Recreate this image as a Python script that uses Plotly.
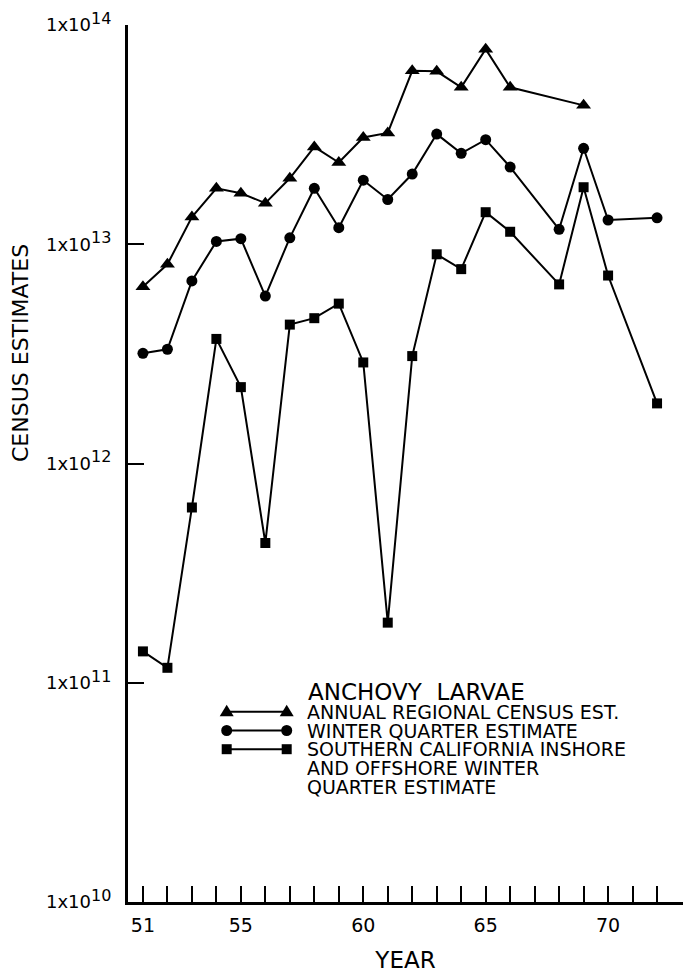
import plotly.graph_objects as go

# ---------------- data ----------------
years_annual = [51, 52, 53, 54, 55, 56, 57, 58, 59, 60, 61, 62, 63, 64, 65, 66, 69]
annual_census = [6.4e12, 8.1e12, 1.33e13, 1.80e13, 1.71e13, 1.54e13, 2.0e13, 2.78e13,
                 2.36e13, 3.07e13, 3.22e13, 6.18e13, 6.15e13, 5.2e13, 7.76e13, 5.2e13, 4.3e13]

years_winter = [51, 52, 53, 54, 55, 56, 57, 58, 59, 60, 61, 62, 63, 64, 65, 66, 68, 69, 70, 72]
winter_quarter = [3.18e12, 3.32e12, 6.8e12, 1.03e13, 1.06e13, 5.8e12, 1.07e13, 1.80e13,
                  1.19e13, 1.96e13, 1.60e13, 2.09e13, 3.18e13, 2.6e13, 3.0e13, 2.25e13,
                  1.17e13, 2.74e13, 1.29e13, 1.32e13]

years_socal = [51, 52, 53, 54, 55, 56, 57, 58, 59, 60, 61, 62, 63, 64, 65, 66, 68, 69, 70, 72]
socal_winter = [1.39e11, 1.17e11, 6.3e11, 3.7e12, 2.23e12, 4.34e11, 4.3e12, 4.6e12,
                5.36e12, 2.89e12, 1.88e11, 3.09e12, 9.0e12, 7.7e12, 1.40e13, 1.14e13,
                6.56e12, 1.82e13, 7.2e12, 1.88e12]

x_tick_years = list(range(51, 73))
x_label_years = [51, 55, 60, 65, 70]
y_tick_vals = [1e10, 1e11, 1e12, 1e13, 1e14]
y_tick_exponents = ["10", "11", "12", "13", "14"]

legend_title = "ANCHOVY  LARVAE"
legend_lines = ["ANNUAL REGIONAL CENSUS EST.", "WINTER QUARTER ESTIMATE",
                "SOUTHERN CALIFORNIA INSHORE", "AND OFFSHORE WINTER",
                "QUARTER ESTIMATE"]

# ---------------- layout geometry ----------------
OFF = 8                      # page body margin in the browser
W, H = 693 - OFF, 977 - OFF
L, R, T, B = 128 - OFF, 10, 25 - OFF, 75
PW, PH = W - L - R, H - T - B
FONT = "DejaVu Sans"
INK = "black"


def px(x):
    """screen x pixel -> paper fraction"""
    return (x - OFF - L) / PW


def py(y):
    """screen y pixel -> paper fraction"""
    return (H - B - (y - OFF)) / PH


fig = go.Figure()
line_style = dict(color=INK, width=2)
fig.add_trace(go.Scatter(x=years_annual, y=annual_census, mode="lines+markers",
                         line=line_style, marker=dict(symbol="triangle-up", size=13, color=INK),
                         showlegend=False, cliponaxis=False))
fig.add_trace(go.Scatter(x=years_winter, y=winter_quarter, mode="lines+markers",
                         line=line_style, marker=dict(symbol="circle", size=11, color=INK),
                         showlegend=False, cliponaxis=False))
fig.add_trace(go.Scatter(x=years_socal, y=socal_winter, mode="lines+markers",
                         line=line_style, marker=dict(symbol="square", size=10, color=INK),
                         showlegend=False, cliponaxis=False))

x_ticktext = [str(y) if y in x_label_years else "" for y in x_tick_years]
y_tick_text = ["1x10<sup><span style='font-size:16px'>%s</span></sup>" % e
               for e in y_tick_exponents]

fig.update_xaxes(range=[50.39, 73.06], showgrid=False, zeroline=False, automargin=False,
                 showline=True, linewidth=3, linecolor=INK,
                 tickmode="array", tickvals=x_tick_years, ticktext=x_ticktext,
                 ticks="inside", ticklen=16, tickwidth=1.5, tickcolor=INK,
                 tickfont=dict(family=FONT, size=19, color=INK),
                 ticklabelstandoff=4,
                 title=dict(text="YEAR", font=dict(family=FONT, size=23, color=INK),
                            standoff=18))
fig.update_yaxes(type="log", range=[10, 14], showgrid=False, zeroline=False, automargin=False,
                 showline=True, linewidth=3, linecolor=INK,
                 tickmode="array", tickvals=y_tick_vals, ticktext=y_tick_text,
                 ticks="inside", ticklen=16, tickwidth=1.5, tickcolor=INK,
                 tickfont=dict(family=FONT, size=18, color=INK),
                 ticklabelstandoff=10)

annotations = [
    dict(text="CENSUS ESTIMATES", textangle=-90, x=px(20), y=py(353),
         xref="paper", yref="paper", showarrow=False, xanchor="center", yanchor="middle",
         font=dict(family=FONT, size=22, color=INK)),
    dict(text=legend_title, x=px(306), y=py(692), xref="paper", yref="paper",
         showarrow=False, xanchor="left", yanchor="middle",
         font=dict(family=FONT, size=23, color=INK)),
]
row_y = [711.7, 730.5, 749.2, 767.9, 786.6]
for txt, yy in zip(legend_lines, row_y):
    annotations.append(dict(text=txt, x=px(305), y=py(yy), xref="paper", yref="paper",
                            showarrow=False, xanchor="left", yanchor="middle",
                            font=dict(family=FONT, size=19, color=INK)))

shapes = []
gx0, gx1 = 226.7, 286.7
symbols = ["triangle", "circle", "square"]
for sym, yy in zip(symbols, row_y[:3]):
    shapes.append(dict(type="line", xref="paper", yref="paper",
                       x0=px(gx0), x1=px(gx1), y0=py(yy), y1=py(yy),
                       line=dict(color=INK, width=2)))
    for gx in (gx0, gx1):
        if sym == "circle":
            shapes.append(dict(type="circle", xref="paper", yref="paper",
                               xsizemode="pixel", ysizemode="pixel",
                               xanchor=px(gx), yanchor=py(yy),
                               x0=-5.5, x1=5.5, y0=-5.5, y1=5.5,
                               fillcolor=INK, line=dict(width=0)))
        elif sym == "square":
            shapes.append(dict(type="rect", xref="paper", yref="paper",
                               xsizemode="pixel", ysizemode="pixel",
                               xanchor=px(gx), yanchor=py(yy),
                               x0=-5, x1=5, y0=-5, y1=5,
                               fillcolor=INK, line=dict(width=0)))
        else:
            shapes.append(dict(type="path", xref="paper", yref="paper",
                               xsizemode="pixel", ysizemode="pixel",
                               xanchor=px(gx), yanchor=py(yy),
                               path="M-7,-4.5 L7,-4.5 L0,7 Z",
                               fillcolor=INK, line=dict(width=0)))

fig.update_layout(width=W, height=H, margin=dict(l=L, r=R, t=T, b=B),
                  paper_bgcolor="white", plot_bgcolor="white",
                  font=dict(family=FONT, color=INK),
                  annotations=annotations, shapes=shapes, showlegend=False)

fig.write_html("out.html")
